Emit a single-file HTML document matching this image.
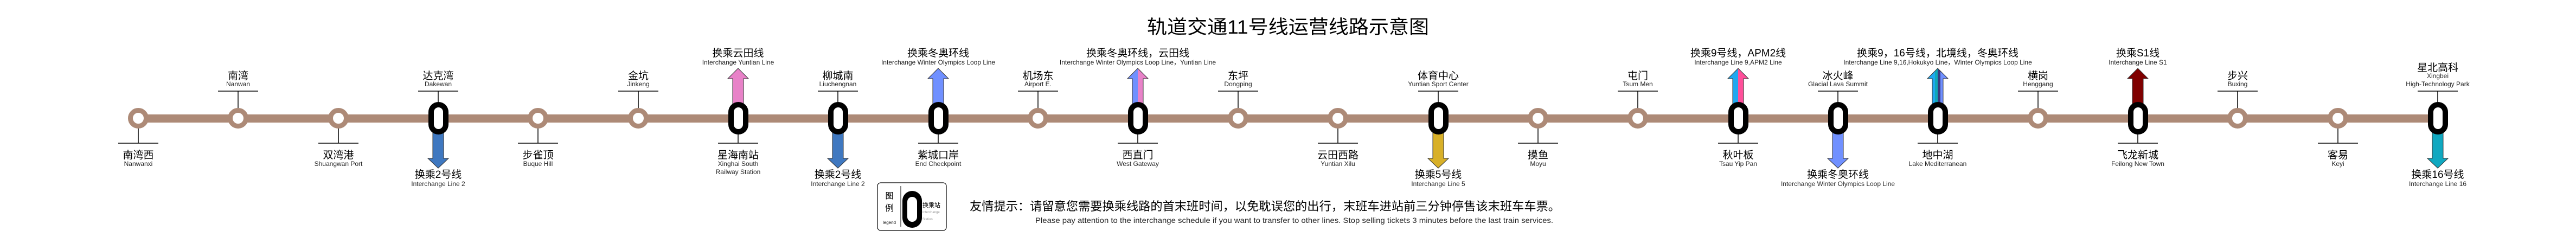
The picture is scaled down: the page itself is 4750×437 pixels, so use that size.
<!DOCTYPE html>
<html><head><meta charset="utf-8"><style>
html,body{margin:0;padding:0;background:#fff;}
svg{display:block;}
text{font-family:"Liberation Sans","Noto Sans CJK SC",sans-serif;}
.cn{font-size:19px;fill:#000;text-anchor:middle;}
.en{font-size:12px;fill:#222;text-anchor:middle;}
.tk{stroke:#000;stroke-width:1.5;}
.st{fill:#fff;stroke:#AD8A77;stroke-width:9;}
.ar{stroke:#333;stroke-width:1;}
</style></head><body>
<svg width="4750" height="437" viewBox="0 0 4750 437" xmlns="http://www.w3.org/2000/svg">
<defs>
<linearGradient id="g10" gradientUnits="userSpaceOnUse" x1="2088" x2="2108"><stop offset="0.5" stop-color="#7090FF"/><stop offset="0.5" stop-color="#E882C8"/></linearGradient>
<linearGradient id="g16" gradientUnits="userSpaceOnUse" x1="3195" x2="3215"><stop offset="0.5" stop-color="#20A8F0"/><stop offset="0.5" stop-color="#FF4F9A"/></linearGradient>
<linearGradient id="g18" gradientUnits="userSpaceOnUse" x1="3563" x2="3583"><stop offset="0.25" stop-color="#20A8F0"/><stop offset="0.25" stop-color="#10A8B8"/><stop offset="0.5" stop-color="#10A8B8"/><stop offset="0.5" stop-color="#3A3A80"/><stop offset="0.75" stop-color="#3A3A80"/><stop offset="0.75" stop-color="#7090FF"/></linearGradient>
</defs>

<text x="2375" y="62" font-size="35" text-anchor="middle" textLength="520" lengthAdjust="spacingAndGlyphs" fill="#000">轨道交通11号线运营线路示意图</text>

<!-- arrows -->
<path class="ar" fill="#3F78C0" d="M798,238 L818,238 L818,292 L827,292 L808,310 L789,292 L798,292 Z"/>
<path class="ar" fill="#E882C8" d="M1361,126 L1380,145 L1371,145 L1371,200 L1351,200 L1351,145 L1342,145 Z"/>
<path class="ar" fill="#3F78C0" d="M1535,238 L1555,238 L1555,292 L1564,292 L1545,310 L1526,292 L1535,292 Z"/>
<path class="ar" fill="#7090FF" d="M1730,126 L1749,145 L1740,145 L1740,200 L1720,200 L1720,145 L1711,145 Z"/>
<path class="ar" fill="url(#g10)" d="M2098,126 L2117,145 L2108,145 L2108,200 L2088,200 L2088,145 L2079,145 Z"/>
<path class="ar" fill="#D8B028" d="M2642,238 L2662,238 L2662,292 L2671,292 L2652,310 L2633,292 L2642,292 Z"/>
<path class="ar" fill="url(#g16)" d="M3205,126 L3224,145 L3215,145 L3215,200 L3195,200 L3195,145 L3186,145 Z"/>
<path class="ar" fill="#7090FF" d="M3379,238 L3399,238 L3399,292 L3408,292 L3389,310 L3370,292 L3379,292 Z"/>
<path class="ar" fill="url(#g18)" d="M3573,126 L3592,145 L3583,145 L3583,200 L3563,200 L3563,145 L3554,145 Z"/>
<path class="ar" fill="#800000" d="M3942,126 L3961,145 L3952,145 L3952,200 L3932,200 L3932,145 L3923,145 Z"/>
<path class="ar" fill="#10A8C0" d="M4485,238 L4505,238 L4505,292 L4514,292 L4495,310 L4476,292 L4485,292 Z"/>

<!-- arrow labels -->
<g>
<text class="cn" x="808" y="328">换乘2号线</text><text class="en" x="808" y="343">Interchange Line 2</text>
<text class="cn" x="1361" y="104">换乘云田线</text><text class="en" x="1361" y="119">Interchange Yuntian Line</text>
<text class="cn" x="1545" y="328">换乘2号线</text><text class="en" x="1545" y="343">Interchange Line 2</text>
<text class="cn" x="1730" y="104">换乘冬奥环线</text><text class="en" x="1730" y="119">Interchange Winter Olympics Loop Line</text>
<text class="cn" x="2098" y="104">换乘冬奥环线，云田线</text><text class="en" x="2098" y="119">Interchange Winter Olympics Loop Line，Yuntian Line</text>
<text class="cn" x="2652" y="328">换乘5号线</text><text class="en" x="2652" y="343">Interchange Line 5</text>
<text class="cn" x="3205" y="104">换乘9号线，APM2线</text><text class="en" x="3205" y="119">Interchange Line 9,APM2 Line</text>
<text class="cn" x="3389" y="328">换乘冬奥环线</text><text class="en" x="3389" y="343">Interchange Winter Olympics Loop Line</text>
<text class="cn" x="3573" y="104">换乘9，16号线，北境线，冬奥环线</text><text class="en" x="3573" y="119">Interchange Line 9,16,Hokukyo Line，Winter Olympics Loop Line</text>
<text class="cn" x="3942" y="104">换乘S1线</text><text class="en" x="3942" y="119">Interchange Line S1</text>
<text class="cn" x="4495" y="328">换乘16号线</text><text class="en" x="4495" y="343">Interchange Line 16</text>
</g>

<!-- main line -->
<rect x="255" y="211" width="4240" height="15" fill="#AD8A77"/>

<!-- ticks: top (odd) -->
<g class="tk">
<line x1="402" y1="168" x2="476" y2="168"/><line x1="439" y1="168" x2="439" y2="200"/>
<line x1="771" y1="168" x2="845" y2="168"/><line x1="808" y1="168" x2="808" y2="190"/>
<line x1="1140" y1="168" x2="1214" y2="168"/><line x1="1177" y1="168" x2="1177" y2="200"/>
<line x1="1508" y1="168" x2="1582" y2="168"/><line x1="1545" y1="168" x2="1545" y2="190"/>
<line x1="1877" y1="168" x2="1951" y2="168"/><line x1="1914" y1="168" x2="1914" y2="200"/>
<line x1="2246" y1="168" x2="2320" y2="168"/><line x1="2283" y1="168" x2="2283" y2="200"/>
<line x1="2615" y1="168" x2="2689" y2="168"/><line x1="2652" y1="168" x2="2652" y2="190"/>
<line x1="2983" y1="168" x2="3057" y2="168"/><line x1="3020" y1="168" x2="3020" y2="200"/>
<line x1="3352" y1="168" x2="3426" y2="168"/><line x1="3389" y1="168" x2="3389" y2="190"/>
<line x1="3721" y1="168" x2="3795" y2="168"/><line x1="3758" y1="168" x2="3758" y2="200"/>
<line x1="4089" y1="168" x2="4163" y2="168"/><line x1="4126" y1="168" x2="4126" y2="200"/>
<line x1="4458" y1="168" x2="4532" y2="168"/><line x1="4495" y1="168" x2="4495" y2="190"/>
<!-- bottom (even) -->
<line x1="218" y1="264" x2="292" y2="264"/><line x1="255" y1="236" x2="255" y2="264"/>
<line x1="587" y1="264" x2="661" y2="264"/><line x1="624" y1="236" x2="624" y2="264"/>
<line x1="955" y1="264" x2="1029" y2="264"/><line x1="992" y1="236" x2="992" y2="264"/>
<line x1="1324" y1="264" x2="1398" y2="264"/><line x1="1361" y1="246" x2="1361" y2="264"/>
<line x1="1693" y1="264" x2="1767" y2="264"/><line x1="1730" y1="246" x2="1730" y2="264"/>
<line x1="2061" y1="264" x2="2135" y2="264"/><line x1="2098" y1="246" x2="2098" y2="264"/>
<line x1="2430" y1="264" x2="2504" y2="264"/><line x1="2467" y1="236" x2="2467" y2="264"/>
<line x1="2799" y1="264" x2="2873" y2="264"/><line x1="2836" y1="236" x2="2836" y2="264"/>
<line x1="3168" y1="264" x2="3242" y2="264"/><line x1="3205" y1="246" x2="3205" y2="264"/>
<line x1="3536" y1="264" x2="3610" y2="264"/><line x1="3573" y1="246" x2="3573" y2="264"/>
<line x1="3905" y1="264" x2="3979" y2="264"/><line x1="3942" y1="246" x2="3942" y2="264"/>
<line x1="4274" y1="264" x2="4348" y2="264"/><line x1="4311" y1="236" x2="4311" y2="264"/>
</g>

<!-- normal stations -->
<circle class="st" cx="255" cy="218" r="14.5"/>
<circle class="st" cx="439" cy="218" r="14.5"/>
<circle class="st" cx="624" cy="218" r="14.5"/>
<circle class="st" cx="992" cy="218" r="14.5"/>
<circle class="st" cx="1177" cy="218" r="14.5"/>
<circle class="st" cx="1914" cy="218" r="14.5"/>
<circle class="st" cx="2283" cy="218" r="14.5"/>
<circle class="st" cx="2467" cy="218" r="14.5"/>
<circle class="st" cx="2836" cy="218" r="14.5"/>
<circle class="st" cx="3020" cy="218" r="14.5"/>
<circle class="st" cx="3758" cy="218" r="14.5"/>
<circle class="st" cx="4126" cy="218" r="14.5"/>
<circle class="st" cx="4311" cy="218" r="14.5"/>

<!-- interchange stations -->
<g>
<rect x="790" y="188" width="37" height="60" rx="18.5" fill="#000"/><rect x="800" y="198" width="17" height="40" rx="8.5" fill="#fff"/>
<rect x="1343" y="188" width="37" height="60" rx="18.5" fill="#000"/><rect x="1353" y="198" width="17" height="40" rx="8.5" fill="#fff"/>
<rect x="1527" y="188" width="37" height="60" rx="18.5" fill="#000"/><rect x="1537" y="198" width="17" height="40" rx="8.5" fill="#fff"/>
<rect x="1712" y="188" width="37" height="60" rx="18.5" fill="#000"/><rect x="1722" y="198" width="17" height="40" rx="8.5" fill="#fff"/>
<rect x="2080" y="188" width="37" height="60" rx="18.5" fill="#000"/><rect x="2090" y="198" width="17" height="40" rx="8.5" fill="#fff"/>
<rect x="2634" y="188" width="37" height="60" rx="18.5" fill="#000"/><rect x="2644" y="198" width="17" height="40" rx="8.5" fill="#fff"/>
<rect x="3187" y="188" width="37" height="60" rx="18.5" fill="#000"/><rect x="3197" y="198" width="17" height="40" rx="8.5" fill="#fff"/>
<rect x="3371" y="188" width="37" height="60" rx="18.5" fill="#000"/><rect x="3381" y="198" width="17" height="40" rx="8.5" fill="#fff"/>
<rect x="3555" y="188" width="37" height="60" rx="18.5" fill="#000"/><rect x="3565" y="198" width="17" height="40" rx="8.5" fill="#fff"/>
<rect x="3924" y="188" width="37" height="60" rx="18.5" fill="#000"/><rect x="3934" y="198" width="17" height="40" rx="8.5" fill="#fff"/>
<rect x="4477" y="188" width="37" height="60" rx="18.5" fill="#000"/><rect x="4487" y="198" width="17" height="40" rx="8.5" fill="#fff"/>
</g>

<!-- top labels -->
<text class="cn" x="439" y="146">南湾</text><text class="en" x="439" y="159">Nanwan</text>
<text class="cn" x="808" y="146">达克湾</text><text class="en" x="808" y="159">Dakewan</text>
<text class="cn" x="1177" y="146">金坑</text><text class="en" x="1177" y="159">Jinkeng</text>
<text class="cn" x="1545" y="146">柳城南</text><text class="en" x="1545" y="159">Liuchengnan</text>
<text class="cn" x="1914" y="146">机场东</text><text class="en" x="1914" y="159">Airport E.</text>
<text class="cn" x="2283" y="146">东坪</text><text class="en" x="2283" y="159">Dongping</text>
<text class="cn" x="2652" y="146">体育中心</text><text class="en" x="2652" y="159">Yuntian Sport Center</text>
<text class="cn" x="3020" y="146">屯门</text><text class="en" x="3020" y="159">Tsum Men</text>
<text class="cn" x="3389" y="146">冰火峰</text><text class="en" x="3389" y="159">Glacial Lava Summit</text>
<text class="cn" x="3758" y="146">横岗</text><text class="en" x="3758" y="159">Henggang</text>
<text class="cn" x="4126" y="146">步兴</text><text class="en" x="4126" y="159">Buxing</text>
<text class="cn" x="4495" y="131">星北高科</text><text class="en" x="4495" y="144">Xingbei</text><text class="en" x="4495" y="159">High-Technology Park</text>

<!-- bottom labels -->
<text class="cn" x="255" y="292">南湾西</text><text class="en" x="255" y="306">Nanwanxi</text>
<text class="cn" x="624" y="292">双湾港</text><text class="en" x="624" y="306">Shuangwan Port</text>
<text class="cn" x="992" y="292">步雀顶</text><text class="en" x="992" y="306">Buque Hill</text>
<text class="cn" x="1361" y="292">星海南站</text><text class="en" x="1361" y="306">Xinghai South</text><text class="en" x="1361" y="321">Railway Station</text>
<text class="cn" x="1730" y="292">紫城口岸</text><text class="en" x="1730" y="306">End Checkpoint</text>
<text class="cn" x="2098" y="292">西直门</text><text class="en" x="2098" y="306">West Gateway</text>
<text class="cn" x="2467" y="292">云田西路</text><text class="en" x="2467" y="306">Yuntian Xilu</text>
<text class="cn" x="2836" y="292">摸鱼</text><text class="en" x="2836" y="306">Moyu</text>
<text class="cn" x="3205" y="292">秋叶板</text><text class="en" x="3205" y="306">Tsau Yip Pan</text>
<text class="cn" x="3573" y="292">地中湖</text><text class="en" x="3573" y="306">Lake Mediterranean</text>
<text class="cn" x="3942" y="292">飞龙新城</text><text class="en" x="3942" y="306">Feilong New Town</text>
<text class="cn" x="4311" y="292">客易</text><text class="en" x="4311" y="306">Keyi</text>

<!-- legend -->
<rect x="1618" y="337" width="127" height="88" rx="6" fill="#fff" stroke="#000" stroke-width="1.2"/>
<text x="1640" y="366" font-size="15" text-anchor="middle">图</text>
<text x="1640" y="389" font-size="16" text-anchor="middle">例</text>
<text x="1640" y="413" font-size="8" text-anchor="middle">legend</text>
<line x1="1661" y1="343" x2="1661" y2="418" stroke="#000" stroke-width="1"/>
<rect x="1664" y="352" width="36" height="68" rx="18" fill="#000"/>
<rect x="1673" y="363" width="18" height="46" rx="9" fill="#fff"/>
<text x="1701" y="382" font-size="11">换乘站</text>
<text x="1701" y="393" font-size="6" fill="#999">Interchange</text>
<text x="1701" y="406" font-size="6" fill="#999">Station</text>

<!-- tip -->
<text x="1788" y="388" font-size="22" textLength="1089" lengthAdjust="spacingAndGlyphs">友情提示：请留意您需要换乘线路的首末班时间，以免耽误您的出行，末班车进站前三分钟停售该末班车车票。</text>
<text x="1909" y="411" font-size="14" fill="#222" textLength="955" lengthAdjust="spacingAndGlyphs">Please pay attention to the interchange schedule if you want to transfer to other lines. Stop selling tickets 3 minutes before the last train services.</text>
</svg>
</body></html>
